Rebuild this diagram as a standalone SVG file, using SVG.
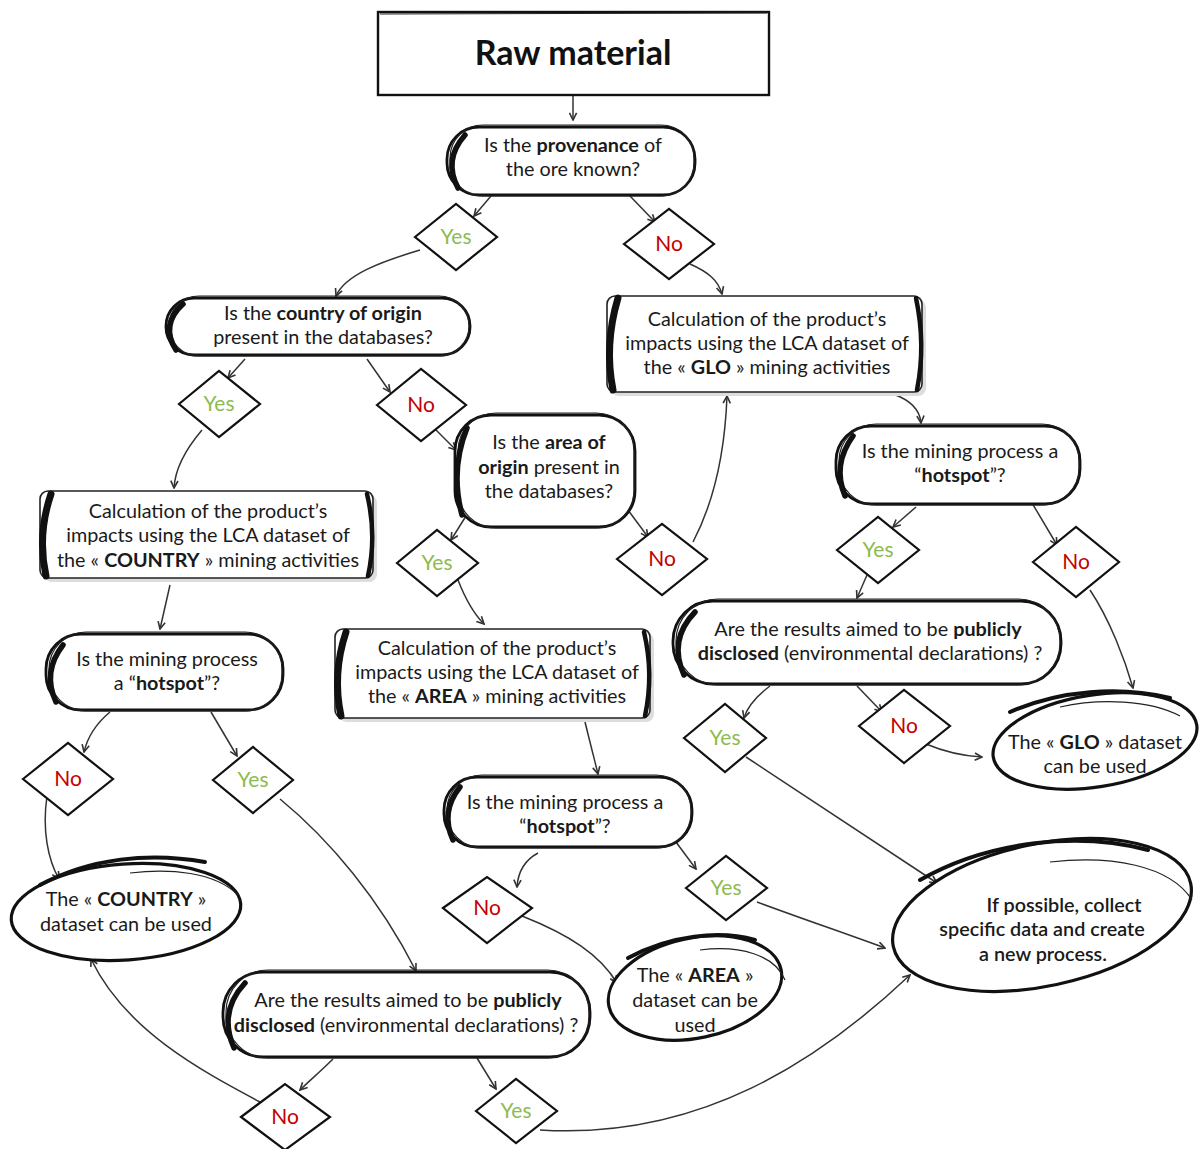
<svg xmlns="http://www.w3.org/2000/svg" width="1202" height="1149" viewBox="0 0 1202 1149">
<defs>
<style>
.t{font-family:Lato,"Open Sans","Liberation Sans",sans-serif;font-size:19.8px;fill:#1a1a1a;text-anchor:middle}
.b{font-weight:700}
.title{font-family:Lato,"Open Sans","Liberation Sans",sans-serif;font-size:34px;font-weight:700;fill:#111;text-anchor:middle}
.yes{font-family:Lato,"Open Sans","Liberation Sans",sans-serif;font-size:21px;fill:#8DBB4F;text-anchor:middle}
.no{font-family:Lato,"Open Sans","Liberation Sans",sans-serif;font-size:21px;fill:#C40000;text-anchor:middle}
.q{fill:#fff;stroke:#111;stroke-width:2.8}
.q2{fill:none;stroke:#222;stroke-width:1.2}
.brush{fill:none;stroke:#111;stroke-width:5.5;stroke-linecap:round}
.dia{fill:#fff;stroke:#111;stroke-width:2.2;stroke-linejoin:miter}
.box{fill:#fff;stroke:#222;stroke-width:1.6}
.shadow{fill:#ddd}
.brk{fill:none;stroke:#111;stroke-width:7;stroke-linecap:round}
.brkr{fill:none;stroke:#111;stroke-width:4.5;stroke-linecap:round}
.ell{fill:#fff;stroke:#111;stroke-width:3.2}
.tail{fill:none;stroke:#111;stroke-width:4;stroke-linecap:round}
.c{fill:none;stroke:#333;stroke-width:1.5}
</style>
<marker id="ah" viewBox="0 0 10 10" refX="9" refY="5" markerWidth="9" markerHeight="9" orient="auto" markerUnits="userSpaceOnUse">
<path d="M1,1 L9,5 L1,9" fill="none" stroke="#333" stroke-width="1.8"/>
</marker>
</defs>
<rect width="1202" height="1149" fill="#fff"/>

<g id="connectors">
<path class="c" marker-end="url(#ah)" d="M573,96 L573,120"/>
<path class="c" marker-end="url(#ah)" d="M491,196 L474,216"/>
<path class="c" marker-end="url(#ah)" d="M630,196 L655,222"/>
<path class="c" marker-end="url(#ah)" d="M420,250 C380,262 345,275 336,296"/>
<path class="c" marker-end="url(#ah)" d="M690,264 C708,272 718,280 722,294"/>
<path class="c" marker-end="url(#ah)" d="M245,359 L228,378"/>
<path class="c" marker-end="url(#ah)" d="M367,359 L390,392"/>
<path class="c" marker-end="url(#ah)" d="M202,430 C185,450 175,470 174,488"/>
<path class="c" marker-end="url(#ah)" d="M434,428 L456,450"/>
<path class="c" marker-end="url(#ah)" d="M893,394 C910,400 920,410 921,423"/>
<path class="c" marker-end="url(#ah)" d="M693,542 C715,500 725,450 727,396"/>
<path class="c" marker-end="url(#ah)" d="M466,516 L451,540"/>
<path class="c" marker-end="url(#ah)" d="M628,510 L648,537"/>
<path class="c" marker-end="url(#ah)" d="M458,580 C465,598 472,612 484,624"/>
<path class="c" marker-end="url(#ah)" d="M170,585 L160,629"/>
<path class="c" marker-end="url(#ah)" d="M110,712 C98,722 88,735 84,752"/>
<path class="c" marker-end="url(#ah)" d="M211,712 L237,756"/>
<path class="c" marker-end="url(#ah)" d="M47,796 C42,830 48,860 59,879"/>
<path class="c" marker-end="url(#ah)" d="M280,799 C330,840 380,900 416,971"/>
<path class="c" marker-end="url(#ah)" d="M585,722 L598,774"/>
<path class="c" marker-end="url(#ah)" d="M538,853 C525,860 518,872 517,887"/>
<path class="c" marker-end="url(#ah)" d="M673,838 L696,869"/>
<path class="c" marker-end="url(#ah)" d="M522,916 C570,935 600,955 617,983"/>
<path class="c" marker-end="url(#ah)" d="M757,902 C800,918 850,935 885,948"/>
<path class="c" marker-end="url(#ah)" d="M333,1059 C320,1072 310,1080 300,1090"/>
<path class="c" marker-end="url(#ah)" d="M477,1058 L496,1089"/>
<path class="c" marker-end="url(#ah)" d="M260,1102 C200,1070 125,1030 91,959"/>
<path class="c" marker-end="url(#ah)" d="M540,1130 C700,1140 820,1060 910,975"/>
<path class="c" marker-end="url(#ah)" d="M916,507 L893,527"/>
<path class="c" marker-end="url(#ah)" d="M1032,503 L1057,545"/>
<path class="c" marker-end="url(#ah)" d="M867,575 L857,598"/>
<path class="c" marker-end="url(#ah)" d="M1090,590 C1110,620 1125,660 1133,688"/>
<path class="c" marker-end="url(#ah)" d="M770,686 C758,695 748,705 744,718"/>
<path class="c" marker-end="url(#ah)" d="M857,686 L882,712"/>
<path class="c" marker-end="url(#ah)" d="M926,744 C945,752 962,756 982,757"/>
<path class="c" marker-end="url(#ah)" d="M746,757 L937,883"/>
</g>

<g id="raw-material">
<rect x="378" y="12" width="391" height="83" fill="#fff" stroke="#111" stroke-width="2.4"/>
<path d="M380,14 L767,13" fill="none" stroke="#222" stroke-width="1"/>
<text class="title" x="573" y="65">Raw material</text>
</g>

<g id="q-provenance">
<rect class="q" x="447" y="127" width="248" height="68" rx="32"/>
<rect class="q2" x="450" y="125" width="244" height="71" rx="33"/>
<path class="brush" d="M465,135 Q443,160 458,188"/>
<text class="t" x="573" y="152">Is the <tspan class="b">provenance</tspan> of</text>
<text class="t" x="573" y="176">the ore known?</text>
</g>

<g id="d-yes1"><polygon class="dia" points="415,237 456,204 497,237 456,270"/><text class="yes" x="456" y="244">Yes</text></g>
<g id="d-no1"><polygon class="dia" points="624,244 669,209 714,244 669,279"/><text class="no" x="669" y="251">No</text></g>

<g id="q-country">
<rect class="q" x="166" y="298" width="304" height="57" rx="28"/>
<rect class="q2" x="169" y="296" width="300" height="60" rx="30"/>
<path class="brush" d="M183,304 Q160,325 176,350"/>
<text class="t" x="323" y="320">Is the <tspan class="b">country of origin</tspan></text>
<text class="t" x="323" y="344">present in the databases?</text>
</g>

<g id="d-yes2"><polygon class="dia" points="179,404 219,371 260,404 219,437"/><text class="yes" x="219" y="411">Yes</text></g>
<g id="d-no2"><polygon class="dia" points="377,405 421,369 466,405 421,441"/><text class="no" x="421" y="412">No</text></g>

<g id="calc-glo">
<rect class="shadow" x="611" y="300" width="315" height="96" rx="8"/>
<rect class="box" x="607" y="296" width="315" height="96" rx="8"/>
<path class="brk" d="M618,298 Q604,345 613,390"/>
<path class="brkr" d="M916,298 Q926,345 917,390"/>
<text class="t" x="767" y="326">Calculation of the product’s</text>
<text class="t" x="767" y="350">impacts using the LCA dataset of</text>
<text class="t" x="767" y="374">the « <tspan class="b">GLO</tspan> » mining activities</text>
</g>

<g id="q-area">
<rect class="q" x="455" y="415" width="180" height="112" rx="36"/>
<rect class="q2" x="458" y="413" width="176" height="115" rx="38"/>
<path class="brush" d="M467,428 Q450,470 462,515"/>
<text class="t" x="549" y="449">Is the <tspan class="b">area of</tspan></text>
<text class="t" x="549" y="474"><tspan class="b">origin</tspan> present in</text>
<text class="t" x="549" y="498">the databases?</text>
</g>

<g id="d-yes3"><polygon class="dia" points="397,563 437,530 478,563 437,596"/><text class="yes" x="437" y="570">Yes</text></g>
<g id="d-no3"><polygon class="dia" points="617,559 662,524 707,559 662,595"/><text class="no" x="662" y="566">No</text></g>

<g id="q-hotspot-glo">
<rect class="q" x="836" y="426" width="244" height="78" rx="35"/>
<rect class="q2" x="839" y="424" width="240" height="81" rx="37"/>
<path class="brush" d="M853,436 Q832,465 845,496"/>
<text class="t" x="960" y="458">Is the mining process a</text>
<text class="t" x="960" y="482">“<tspan class="b">hotspot</tspan>”?</text>
</g>

<g id="d-yes7"><polygon class="dia" points="837,550 878,517 919,550 878,583"/><text class="yes" x="878" y="557">Yes</text></g>
<g id="d-no7"><polygon class="dia" points="1033,562 1076,527 1119,562 1076,597"/><text class="no" x="1076" y="569">No</text></g>

<g id="calc-country">
<rect class="shadow" x="44" y="495" width="333" height="87" rx="8"/>
<rect class="box" x="40" y="491" width="333" height="87" rx="8"/>
<path class="brk" d="M51,494 Q37,535 46,576"/>
<path class="brkr" d="M367,494 Q377,535 368,576"/>
<text class="t" x="208" y="518">Calculation of the product’s</text>
<text class="t" x="208" y="542">impacts using the LCA dataset of</text>
<text class="t" x="208" y="567">the « <tspan class="b">COUNTRY</tspan> » mining activities</text>
</g>

<g id="q-results-glo">
<rect class="q" x="673" y="601" width="388" height="83" rx="40"/>
<rect class="q2" x="676" y="599" width="384" height="86" rx="42"/>
<path class="brush" d="M695,612 Q668,640 684,675"/>
<text class="t" x="868" y="636">Are the results aimed to be <tspan class="b">publicly</tspan></text>
<text class="t" x="870" y="660"><tspan class="b">disclosed</tspan> (environmental declarations) ?</text>
</g>

<g id="d-yes8"><polygon class="dia" points="684,738 725,704 766,738 725,772"/><text class="yes" x="725" y="745">Yes</text></g>
<g id="d-no8"><polygon class="dia" points="859,726 904,690 950,726 904,763"/><text class="no" x="904" y="733">No</text></g>

<g id="calc-area">
<rect class="shadow" x="339" y="633" width="315" height="89" rx="8"/>
<rect class="box" x="335" y="629" width="315" height="89" rx="8"/>
<path class="brk" d="M346,632 Q332,674 341,716"/>
<path class="brkr" d="M644,632 Q654,674 645,716"/>
<text class="t" x="497" y="655">Calculation of the product’s</text>
<text class="t" x="497" y="679">impacts using the LCA dataset of</text>
<text class="t" x="497" y="703">the « <tspan class="b">AREA</tspan> » mining activities</text>
</g>

<g id="q-hotspot-country">
<rect class="q" x="46" y="634" width="237" height="76" rx="35"/>
<rect class="q2" x="49" y="632" width="233" height="79" rx="37"/>
<path class="brush" d="M63,645 Q42,672 56,702"/>
<text class="t" x="167" y="666">Is the mining process</text>
<text class="t" x="167" y="690">a “<tspan class="b">hotspot</tspan>”?</text>
</g>

<g id="d-no4"><polygon class="dia" points="23,779 68,743 113,779 68,815"/><text class="no" x="68" y="786">No</text></g>
<g id="d-yes4"><polygon class="dia" points="213,780 253,747 293,780 253,813"/><text class="yes" x="253" y="787">Yes</text></g>

<g id="q-hotspot-area">
<rect class="q" x="444" y="777" width="248" height="70" rx="33"/>
<rect class="q2" x="447" y="775" width="244" height="73" rx="35"/>
<path class="brush" d="M460,787 Q440,812 453,840"/>
<text class="t" x="565" y="809">Is the mining process a</text>
<text class="t" x="565" y="833">“<tspan class="b">hotspot</tspan>”?</text>
</g>

<g id="d-no6"><polygon class="dia" points="443,908 487,877 532,908 487,943"/><text class="no" x="487" y="915">No</text></g>
<g id="d-yes6"><polygon class="dia" points="686,888 726,856 767,888 726,920"/><text class="yes" x="726" y="895">Yes</text></g>

<g id="ds-glo">
<ellipse class="ell" cx="1095" cy="741" rx="103" ry="46" transform="rotate(-9 1095 741)"/>
<path class="tail" d="M1010,712 C1060,690 1120,686 1170,698"/>
<path class="q2" d="M1060,707 C1100,698 1150,700 1180,716"/>
<text class="t" x="1095" y="749">The « <tspan class="b">GLO</tspan> » dataset</text>
<text class="t" x="1095" y="773">can be used</text>
</g>

<g id="ds-country">
<ellipse class="ell" cx="126" cy="912" rx="115" ry="48" transform="rotate(-4 126 912)"/>
<path class="tail" d="M40,885 C90,858 150,852 205,862"/>
<path class="q2" d="M130,873 C170,868 215,872 238,895"/>
<text class="t" x="126" y="906">The « <tspan class="b">COUNTRY</tspan> »</text>
<text class="t" x="126" y="931">dataset can be used</text>
</g>

<g id="ds-new">
<ellipse class="ell" cx="1042" cy="915" rx="152" ry="71" transform="rotate(-12 1042 915)" stroke-width="4"/>
<path class="tail" d="M920,880 C990,840 1080,832 1148,850"/>
<path class="q2" d="M1050,862 C1110,855 1170,865 1192,900"/>
<text class="t" x="1064" y="912" style="font-weight:600">If possible, collect</text>
<text class="t" x="1042" y="936" style="font-weight:600">specific data and create</text>
<text class="t" x="1043" y="961" style="font-weight:600">a new process.</text>
</g>

<g id="ds-area">
<ellipse class="ell" cx="695" cy="988" rx="88" ry="50" transform="rotate(-12 695 988)"/>
<path class="tail" d="M628,958 C670,935 720,930 755,940"/>
<path class="q2" d="M700,950 C740,945 775,955 785,980"/>
<text class="t" x="695" y="982">The « <tspan class="b">AREA</tspan> »</text>
<text class="t" x="695" y="1007">dataset can be</text>
<text class="t" x="695" y="1032">used</text>
</g>

<g id="q-results-country">
<rect class="q" x="223" y="972" width="367" height="85" rx="40"/>
<rect class="q2" x="226" y="970" width="363" height="88" rx="42"/>
<path class="brush" d="M245,983 Q218,1012 234,1048"/>
<text class="t" x="408" y="1007">Are the results aimed to be <tspan class="b">publicly</tspan></text>
<text class="t" x="406" y="1032"><tspan class="b">disclosed</tspan> (environmental declarations) ?</text>
</g>

<g id="d-no5"><polygon class="dia" points="241,1117 285,1084 330,1117 285,1150"/><text class="no" x="285" y="1124">No</text></g>
<g id="d-yes5"><polygon class="dia" points="476,1111 516,1079 557,1111 516,1143"/><text class="yes" x="516" y="1118">Yes</text></g>
</svg>
